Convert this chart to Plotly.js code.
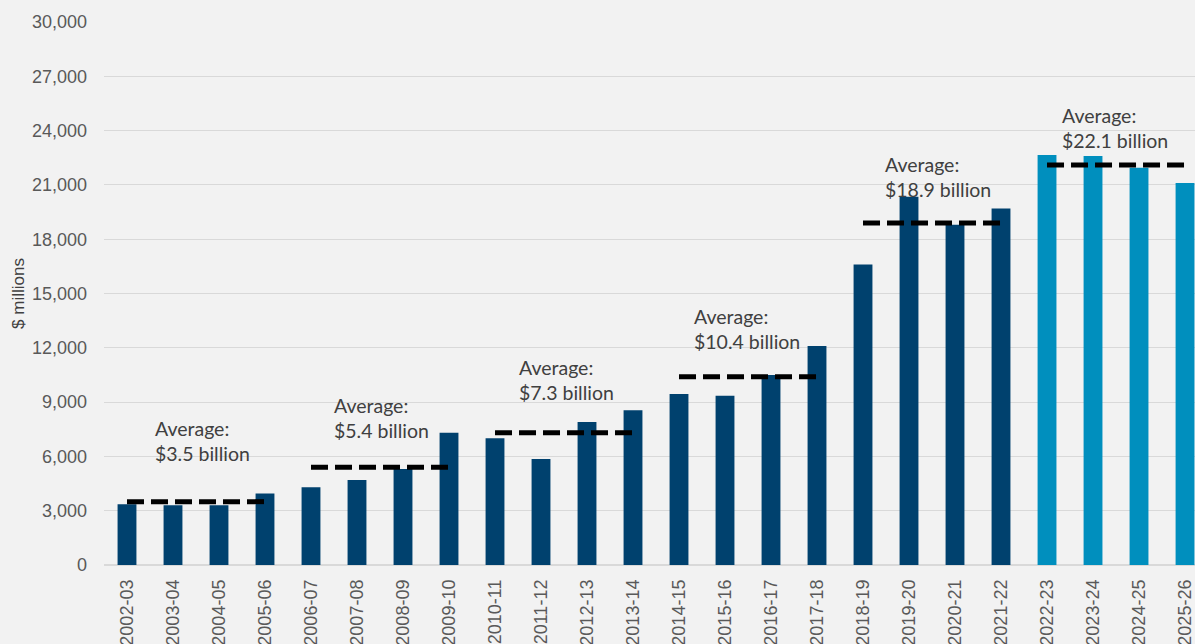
<!DOCTYPE html>
<html>
<head>
<meta charset="utf-8">
<script src="https://cdn.plot.ly/plotly-3.0.1.min.js"></script>
<style>html,body{margin:0;padding:0;background:#F2F2F2;}#chart{width:1195px;height:644px;}</style>
</head>
<body>
<div id="chart"></div>
<script>
// ---- data ----
var actualYears = ["2002-03","2003-04","2004-05","2005-06","2006-07","2007-08","2008-09","2009-10",
  "2010-11","2011-12","2012-13","2013-14","2014-15","2015-16","2016-17","2017-18",
  "2018-19","2019-20","2020-21","2021-22"];
var actualValues = [3350,3300,3300,3950,4300,4700,5300,7300,
  7000,5850,7900,8550,9450,9350,10500,12100,
  16600,20350,18800,19700];
var projYears = ["2022-23","2023-24","2024-25","2025-26"];
var projValues = [22650,22600,21950,21100];
var avgBillions = [3.5,5.4,7.3,10.4,18.9,22.1];
var avgFirstYear = ["2002-03","2006-07","2010-11","2014-15","2018-19","2022-23"];
var avgLastYear  = ["2005-06","2009-10","2013-14","2017-18","2021-22","2025-26"];
var yTickVals = [0,3000,6000,9000,12000,15000,18000,21000,24000,27000,30000];

// ---- layout tweaks for the average labels (pixels) ----
var labelXShift = [26,21,22,13,20,13];
var labelYShift = [35,23,27,22,20,11];

var allYears = actualYears.concat(projYears);

var traces = [
  {type:'bar', name:'Actual', x:actualYears, y:actualValues,
   marker:{color:'#00416E'}, hoverinfo:'x+y'},
  {type:'bar', name:'Projected', x:projYears, y:projValues,
   marker:{color:'#008FBE'}, hoverinfo:'x+y'}
];
var annotations = [];
for (var i = 0; i < avgBillions.length; i++) {
  traces.push({type:'scatter', mode:'lines', showlegend:false,
    x:[avgFirstYear[i], avgLastYear[i]], y:[avgBillions[i]*1000, avgBillions[i]*1000],
    line:{color:'#000000', width:5, dash:'17px,7px'}, hoverinfo:'y'});
  annotations.push({x:avgFirstYear[i], y:avgBillions[i]*1000, xref:'x', yref:'y',
    xanchor:'left', yanchor:'bottom', align:'left', showarrow:false,
    xshift:labelXShift[i], yshift:labelYShift[i],
    text:'Average:<br>$' + avgBillions[i].toFixed(1) + ' billion',
    font:{family:'Lato, "Open Sans", sans-serif', size:19.5, color:'#404040'}});
}

var layout = {
  width:1195, height:644,
  margin:{l:104, r:0, t:22, b:79, pad:0},
  paper_bgcolor:'#F2F2F2', plot_bgcolor:'#F2F2F2',
  showlegend:false,
  barmode:'overlay', bargap:0.59,
  xaxis:{type:'category', categoryorder:'array', categoryarray:allYears,
    range:[-0.5, 23.217], tickangle:-90, showgrid:false, zeroline:false,
    showline:false, ticks:'', ticklabelstandoff:10,
    tickfont:{family:'"Liberation Sans", Arial, sans-serif', size:18, color:'#595959'},
    fixedrange:true},
  yaxis:{range:[0,30000], tickvals:yTickVals, tickformat:',d',
    showgrid:true, gridcolor:'#D9D9D9', gridwidth:1, zeroline:true, zerolinecolor:'#D9D9D9', zerolinewidth:1.5,
    showline:false, ticks:'', ticklabelstandoff:16,
    tickfont:{family:'"Liberation Sans", Arial, sans-serif', size:18, color:'#595959'},
    title:{text:'$ millions', standoff:2, font:{family:'"Liberation Sans", Arial, sans-serif', size:17, color:'#404040'}},
    automargin:false, fixedrange:true},
  annotations:annotations,
  font:{family:'"Liberation Sans", Arial, sans-serif'}
};
Plotly.newPlot('chart', traces, layout, {displayModeBar:false, staticPlot:true});
</script>
</body>
</html>
